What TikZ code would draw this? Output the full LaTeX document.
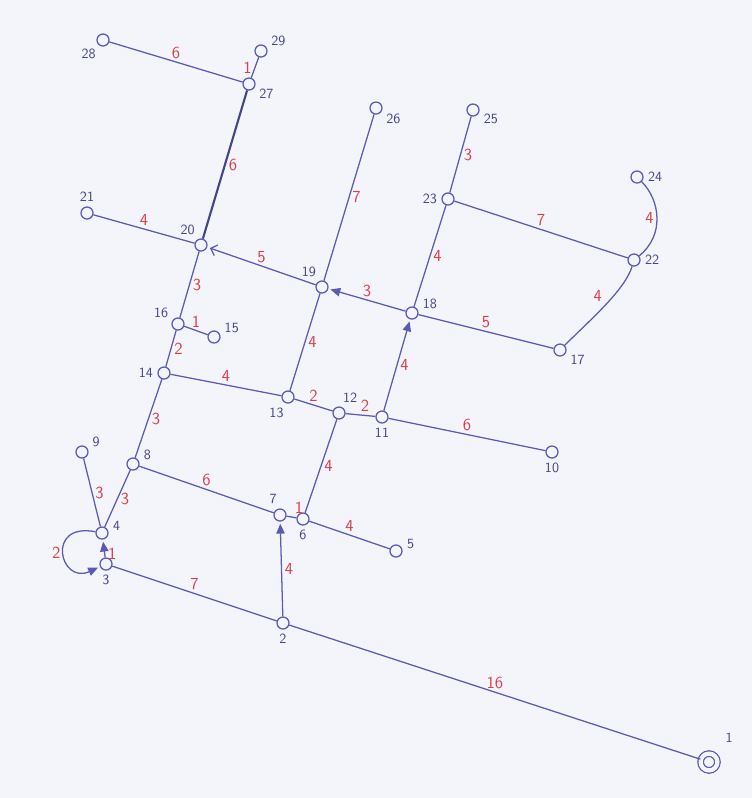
\documentclass[tikz,border=0pt]{standalone}
\usetikzlibrary{arrows.meta}
\definecolor{paper}{RGB}{243,245,251}
\definecolor{pencil}{RGB}{92,90,180}
\definecolor{ink}{RGB}{70,68,138}
\definecolor{redpen}{RGB}{220,60,74}
\begin{document}
\begin{tikzpicture}[x=0.025cm, y=-0.025cm,
        road/.style={draw=pencil, line width=0.9pt},
        heavy/.style={draw=pencil!75!black, line width=1.5pt},
        junction/.style={circle, draw=pencil, line width=0.9pt, fill=paper, inner sep=0pt, minimum size=0.3cm},
        num/.style={text=ink, font=\sffamily, inner sep=1pt},
        len/.style={text=redpen, font=\sffamily\large, inner sep=2pt},
        every label/.style={num},
        label distance=2pt,
        tip/.style={-{Triangle[length=7pt,width=6pt]}, shorten >=1.5pt},
        barb/.style={-{Straight Barb[length=4pt,width=8pt]}, shorten >=2pt}]
    \fill[paper] (0,0) rectangle (752,798);

    \node[junction, double=paper, double distance=3pt, minimum size=0.42cm, label={[label distance=10pt]50:1}] (N1) at (709,762) {};
    \node[junction, label=below:2] (N2) at (283,623) {};
    \node[junction, label=below:3] (N3) at (106,564) {};
    \node[junction, label=8:4] (N4) at (102,533) {};
    \node[junction, label=5:5] (N5) at (396,551) {};
    \node[junction, label=below:6] (N6) at (303,519) {};
    \node[junction, label=100:7] (N7) at (280,515) {};
    \node[junction, label=15:8] (N8) at (133,464) {};
    \node[junction, label=20:9] (N9) at (82,452) {};
    \node[junction, label=below:10] (N10) at (552,452) {};
    \node[junction, label=below:11] (N11) at (382,417) {};
    \node[junction, label=75:12] (N12) at (339,413) {};
    \node[junction, label=-107:13] (N13) at (288,397) {};
    \node[junction, label=left:14] (N14) at (164,373) {};
    \node[junction, label=17:15] (N15) at (214,337) {};
    \node[junction, label=150:16] (N16) at (178,324) {};
    \node[junction, label=-20:17] (N17) at (560,350) {};
    \node[junction, label=15:18] (N18) at (412,313) {};
    \node[junction, label=118:19] (N19) at (322,287) {};
    \node[junction, label=120:20] (N20) at (201,245) {};
    \node[junction, label=above:21] (N21) at (87,213) {};
    \node[junction, label=right:22] (N22) at (634,260) {};
    \node[junction, label=left:23] (N23) at (448,199) {};
    \node[junction, label=right:24] (N24) at (637,177) {};
    \node[junction, label=-15:25] (N25) at (473,110) {};
    \node[junction, label=-25:26] (N26) at (376,108) {};
    \node[junction, label=-23:27] (N27) at (249,84) {};
    \node[junction, label=-127:28] (N28) at (103,40) {};
    \node[junction, label=25:29] (N29) at (261,51) {};

    \draw[road] (N28) -- node[len, above] {6} (N27);
    \draw[road] (N27) -- node[len, left] {1} (N29);
    \draw[heavy] (N27) -- node[len, right] {6} (N20);
    \draw[road] (N21) -- node[len, above] {4} (N20);
    \draw[road, barb] (N19) -- node[len, above] {5} (N20);
    \draw[road] (N20) -- node[len, right] {3} (N16);
    \draw[road] (N16) -- node[len, above] {1} (N15);
    \draw[road] (N16) -- node[len, right] {2} (N14);
    \draw[road] (N14) -- node[len, above] {4} (N13);
    \draw[road] (N14) -- node[len, right] {3} (N8);
    \draw[road] (N13) -- node[len, right] {4} (N19);
    \draw[road] (N19) -- node[len, right] {7} (N26);
    \draw[road, tip] (N18) -- node[len, above] {3} (N19);
    \draw[road] (N13) -- node[len, above] {2} (N12);
    \draw[road] (N12) -- node[len, pos=0.65, above] {2} (N11);
    \draw[road] (N11) -- node[len, above] {6} (N10);
    \draw[road, tip] (N11) -- node[len, right] {4} (N18);
    \draw[road] (N18) -- node[len, right] {4} (N23);
    \draw[road] (N23) -- node[len, right] {3} (N25);
    \draw[road] (N23) -- node[len, above] {7} (N22);
    \draw[road] (N22) .. controls (665,235) and (660,200) .. (N24) node[len, pos=0.5, left] {4};
    \draw[road] (N22) .. controls (625,290) and (590,320) .. (N17) node[len, pos=0.5, above left] {4};
    \draw[road] (N18) -- node[len, above] {5} (N17);
    \draw[road] (N12) -- node[len, right] {4} (N6);
    \draw[road] (N8) -- node[len, above] {6} (N7);
    \draw[road] (N7) -- node[len, above right] {1} (N6);
    \draw[road] (N6) -- node[len, above] {4} (N5);
    \draw[road, tip] (N2) -- node[len, right] {4} (N7);
    \draw[road] (N8) -- node[len, right] {3} (N4);
    \draw[road] (N9) -- node[len, right] {3} (N4);
    \draw[road, tip] (N3) -- node[len, pos=0.2, right] {1} (N4);
    \draw[road, tip] (N4) .. controls (45,522) and (60,585) .. (N3) node[len, pos=0.5, left] {2};
    \draw[road] (N3) -- node[len, above] {7} (N2);
    \draw[road] (N2) -- node[len, above] {16} (N1);
\end{tikzpicture}
\end{document}
